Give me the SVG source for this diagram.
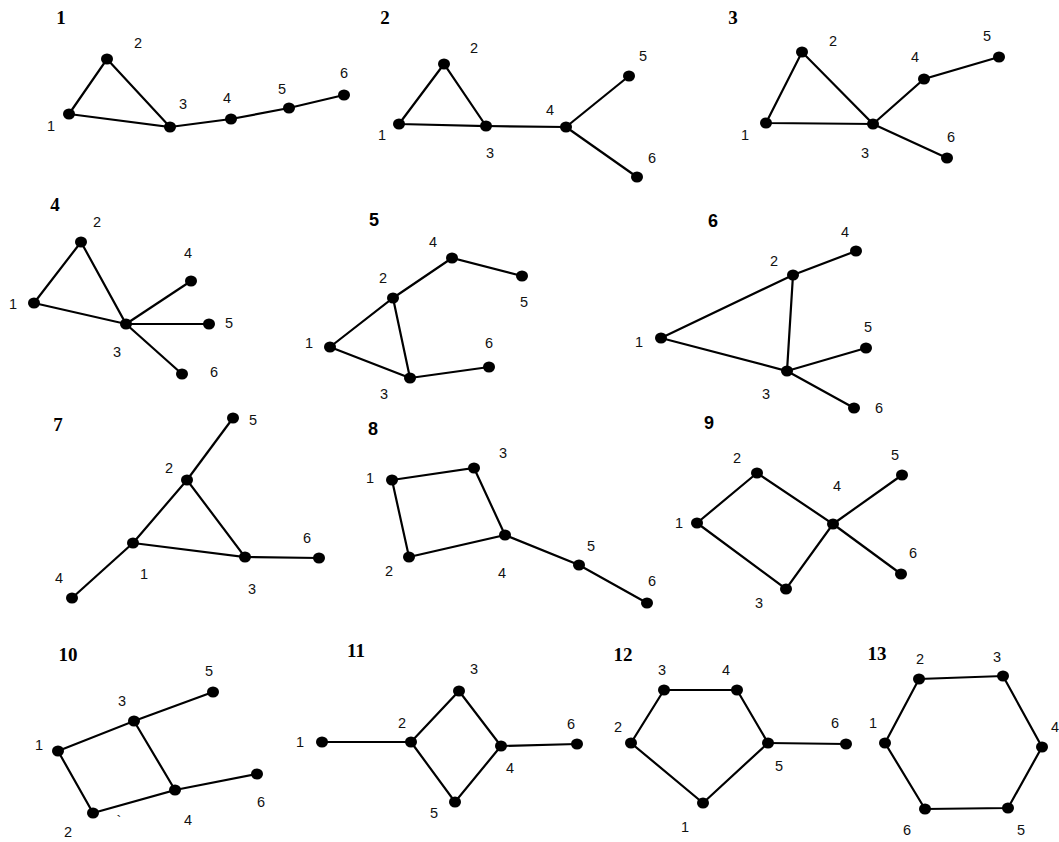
<svg xmlns="http://www.w3.org/2000/svg" width="1059" height="842" viewBox="0 0 1059 842">
<style>
.e{stroke:#000;stroke-width:2.2;fill:none}
.n{fill:#000}
.l{font-family:"Liberation Sans",Arial,sans-serif;font-size:14.5px;fill:#111;text-anchor:middle}
.t{font-family:"Liberation Serif","DejaVu Serif",serif;font-size:19px;font-weight:bold;fill:#000;text-anchor:middle}
.ts{font-family:"Liberation Sans",Arial,sans-serif;font-size:18px;font-weight:bold;fill:#000;text-anchor:middle}
</style>
<rect width="1059" height="842" fill="#fff"/>

<!-- Graph 1 -->
<g id="graph1">
<text class="t" x="61" y="24">1</text>
<g id="g1-edges" class="e">
<polyline points="69,114 107,59 170,127 69,114"/>
<polyline points="170,127 231,119 289,108 344,95"/>
</g>
<g id="g1-n1"><ellipse class="n" cx="69" cy="114" rx="6" ry="5.6"/><text class="l" x="51" y="131">1</text></g>
<g id="g1-n2"><ellipse class="n" cx="107" cy="59" rx="6" ry="5.6"/><text class="l" x="138" y="48">2</text></g>
<g id="g1-n3"><ellipse class="n" cx="170" cy="127" rx="6" ry="5.6"/><text class="l" x="183" y="109">3</text></g>
<g id="g1-n4"><ellipse class="n" cx="231" cy="119" rx="6" ry="5.6"/><text class="l" x="227" y="103">4</text></g>
<g id="g1-n5"><ellipse class="n" cx="289" cy="108" rx="6" ry="5.6"/><text class="l" x="282" y="94">5</text></g>
<g id="g1-n6"><ellipse class="n" cx="344" cy="95" rx="6" ry="5.6"/><text class="l" x="344" y="78">6</text></g>
</g>

<!-- Graph 2 -->
<g id="graph2">
<text class="t" x="385" y="24">2</text>
<g id="g2-edges" class="e">
<polyline points="399,124 444,64 486,126 399,124"/>
<line x1="486" y1="126" x2="566" y2="127"/>
<line x1="566" y1="127" x2="629" y2="76"/>
<line x1="566" y1="127" x2="637" y2="177"/>
</g>
<g id="g2-n1"><ellipse class="n" cx="399" cy="124" rx="6" ry="5.6"/><text class="l" x="382" y="140">1</text></g>
<g id="g2-n2"><ellipse class="n" cx="444" cy="64" rx="6" ry="5.6"/><text class="l" x="474" y="53">2</text></g>
<g id="g2-n3"><ellipse class="n" cx="486" cy="126" rx="6" ry="5.6"/><text class="l" x="490" y="158">3</text></g>
<g id="g2-n4"><ellipse class="n" cx="566" cy="127" rx="6" ry="5.6"/><text class="l" x="550" y="115">4</text></g>
<g id="g2-n5"><ellipse class="n" cx="629" cy="76" rx="6" ry="5.6"/><text class="l" x="643" y="61">5</text></g>
<g id="g2-n6"><ellipse class="n" cx="637" cy="177" rx="6" ry="5.6"/><text class="l" x="652" y="163">6</text></g>
</g>

<!-- Graph 3 -->
<g id="graph3">
<text class="t" x="733" y="24">3</text>
<g id="g3-edges" class="e">
<polyline points="766,123 802,52 873,124 766,123"/>
<polyline points="873,124 924,79 999,57"/>
<line x1="873" y1="124" x2="947" y2="158"/>
</g>
<g id="g3-n1"><ellipse class="n" cx="766" cy="123" rx="6" ry="5.6"/><text class="l" x="745" y="140">1</text></g>
<g id="g3-n2"><ellipse class="n" cx="802" cy="52" rx="6" ry="5.6"/><text class="l" x="833" y="46">2</text></g>
<g id="g3-n3"><ellipse class="n" cx="873" cy="124" rx="6" ry="5.6"/><text class="l" x="865" y="158">3</text></g>
<g id="g3-n4"><ellipse class="n" cx="924" cy="79" rx="6" ry="5.6"/><text class="l" x="915" y="62">4</text></g>
<g id="g3-n5"><ellipse class="n" cx="999" cy="57" rx="6" ry="5.6"/><text class="l" x="987" y="41">5</text></g>
<g id="g3-n6"><ellipse class="n" cx="947" cy="158" rx="6" ry="5.6"/><text class="l" x="951" y="142">6</text></g>
</g>

<!-- Graph 4 -->
<g id="graph4">
<text class="t" x="55" y="211">4</text>
<g id="g4-edges" class="e">
<polyline points="34,303 81,242 126,324 34,303"/>
<line x1="126" y1="324" x2="191" y2="281"/>
<line x1="126" y1="324" x2="209" y2="324"/>
<line x1="126" y1="324" x2="182" y2="374"/>
</g>
<g id="g4-n1"><ellipse class="n" cx="34" cy="303" rx="6" ry="5.6"/><text class="l" x="13" y="309">1</text></g>
<g id="g4-n2"><ellipse class="n" cx="81" cy="242" rx="6" ry="5.6"/><text class="l" x="97" y="227">2</text></g>
<g id="g4-n3"><ellipse class="n" cx="126" cy="324" rx="6" ry="5.6"/><text class="l" x="117" y="357">3</text></g>
<g id="g4-n4"><ellipse class="n" cx="191" cy="281" rx="6" ry="5.6"/><text class="l" x="188" y="258">4</text></g>
<g id="g4-n5"><ellipse class="n" cx="209" cy="324" rx="6" ry="5.6"/><text class="l" x="229" y="328">5</text></g>
<g id="g4-n6"><ellipse class="n" cx="182" cy="374" rx="6" ry="5.6"/><text class="l" x="214" y="377">6</text></g>
</g>

<!-- Graph 5 -->
<g id="graph5">
<text class="ts" x="374" y="226">5</text>
<g id="g5-edges" class="e">
<polyline points="330,347 393,298 410,378 330,347"/>
<polyline points="393,298 452,258 522,276"/>
<line x1="410" y1="378" x2="489" y2="367"/>
</g>
<g id="g5-n1"><ellipse class="n" cx="330" cy="347" rx="6" ry="5.6"/><text class="l" x="309" y="348">1</text></g>
<g id="g5-n2"><ellipse class="n" cx="393" cy="298" rx="6" ry="5.6"/><text class="l" x="383" y="283">2</text></g>
<g id="g5-n3"><ellipse class="n" cx="410" cy="378" rx="6" ry="5.6"/><text class="l" x="384" y="399">3</text></g>
<g id="g5-n4"><ellipse class="n" cx="452" cy="258" rx="6" ry="5.6"/><text class="l" x="433" y="247">4</text></g>
<g id="g5-n5"><ellipse class="n" cx="522" cy="276" rx="6" ry="5.6"/><text class="l" x="524" y="307">5</text></g>
<g id="g5-n6"><ellipse class="n" cx="489" cy="367" rx="6" ry="5.6"/><text class="l" x="489" y="348">6</text></g>
</g>

<!-- Graph 6 -->
<g id="graph6">
<text class="ts" x="713" y="227">6</text>
<g id="g6-edges" class="e">
<polyline points="661,338 793,275 787,371 661,338"/>
<line x1="793" y1="275" x2="856" y2="251"/>
<line x1="787" y1="371" x2="866" y2="348"/>
<line x1="787" y1="371" x2="854" y2="408"/>
</g>
<g id="g6-n1"><ellipse class="n" cx="661" cy="338" rx="6" ry="5.6"/><text class="l" x="639" y="347">1</text></g>
<g id="g6-n2"><ellipse class="n" cx="793" cy="275" rx="6" ry="5.6"/><text class="l" x="774" y="266">2</text></g>
<g id="g6-n3"><ellipse class="n" cx="787" cy="371" rx="6" ry="5.6"/><text class="l" x="766" y="399">3</text></g>
<g id="g6-n4"><ellipse class="n" cx="856" cy="251" rx="6" ry="5.6"/><text class="l" x="845" y="237">4</text></g>
<g id="g6-n5"><ellipse class="n" cx="866" cy="348" rx="6" ry="5.6"/><text class="l" x="868" y="332">5</text></g>
<g id="g6-n6"><ellipse class="n" cx="854" cy="408" rx="6" ry="5.6"/><text class="l" x="879" y="413">6</text></g>
</g>

<!-- Graph 7 -->
<g id="graph7">
<text class="t" x="58" y="431">7</text>
<g id="g7-edges" class="e">
<polyline points="133,543 187,480 245,557 133,543"/>
<line x1="187" y1="480" x2="233" y2="418"/>
<line x1="133" y1="543" x2="72" y2="598"/>
<line x1="245" y1="557" x2="319" y2="558"/>
</g>
<g id="g7-n1"><ellipse class="n" cx="133" cy="543" rx="6" ry="5.6"/><text class="l" x="144" y="579">1</text></g>
<g id="g7-n2"><ellipse class="n" cx="187" cy="480" rx="6" ry="5.6"/><text class="l" x="169" y="473">2</text></g>
<g id="g7-n3"><ellipse class="n" cx="245" cy="557" rx="6" ry="5.6"/><text class="l" x="252" y="594">3</text></g>
<g id="g7-n4"><ellipse class="n" cx="72" cy="598" rx="6" ry="5.6"/><text class="l" x="59" y="583">4</text></g>
<g id="g7-n5"><ellipse class="n" cx="233" cy="418" rx="6" ry="5.6"/><text class="l" x="253" y="425">5</text></g>
<g id="g7-n6"><ellipse class="n" cx="319" cy="558" rx="6" ry="5.6"/><text class="l" x="307" y="543">6</text></g>
</g>

<!-- Graph 8 -->
<g id="graph8">
<text class="ts" x="373" y="435">8</text>
<g id="g8-edges" class="e">
<polyline points="392,480 474,468 505,535 409,557 392,480"/>
<polyline points="505,535 579,565 647,603"/>
</g>
<g id="g8-n1"><ellipse class="n" cx="392" cy="480" rx="6" ry="5.6"/><text class="l" x="370" y="483">1</text></g>
<g id="g8-n2"><ellipse class="n" cx="409" cy="557" rx="6" ry="5.6"/><text class="l" x="389" y="576">2</text></g>
<g id="g8-n3"><ellipse class="n" cx="474" cy="468" rx="6" ry="5.6"/><text class="l" x="503" y="458">3</text></g>
<g id="g8-n4"><ellipse class="n" cx="505" cy="535" rx="6" ry="5.6"/><text class="l" x="502" y="578">4</text></g>
<g id="g8-n5"><ellipse class="n" cx="579" cy="565" rx="6" ry="5.6"/><text class="l" x="591" y="551">5</text></g>
<g id="g8-n6"><ellipse class="n" cx="647" cy="603" rx="6" ry="5.6"/><text class="l" x="652" y="586">6</text></g>
</g>

<!-- Graph 9 -->
<g id="graph9">
<text class="ts" x="709" y="429">9</text>
<g id="g9-edges" class="e">
<polyline points="697,523 757,473 833,524 786,589 697,523"/>
<line x1="833" y1="524" x2="902" y2="475"/>
<line x1="833" y1="524" x2="901" y2="574"/>
</g>
<g id="g9-n1"><ellipse class="n" cx="697" cy="523" rx="6" ry="5.6"/><text class="l" x="679" y="528">1</text></g>
<g id="g9-n2"><ellipse class="n" cx="757" cy="473" rx="6" ry="5.6"/><text class="l" x="737" y="463">2</text></g>
<g id="g9-n3"><ellipse class="n" cx="786" cy="589" rx="6" ry="5.6"/><text class="l" x="759" y="608">3</text></g>
<g id="g9-n4"><ellipse class="n" cx="833" cy="524" rx="6" ry="5.6"/><text class="l" x="837" y="491">4</text></g>
<g id="g9-n5"><ellipse class="n" cx="902" cy="475" rx="6" ry="5.6"/><text class="l" x="895" y="460">5</text></g>
<g id="g9-n6"><ellipse class="n" cx="901" cy="574" rx="6" ry="5.6"/><text class="l" x="913" y="558">6</text></g>
</g>

<!-- Graph 10 -->
<g id="graph10">
<text class="t" x="68" y="661">10</text>
<g id="g10-edges" class="e">
<polyline points="58,751 134,721 175,790 93,813 58,751"/>
<line x1="134" y1="721" x2="213" y2="692"/>
<line x1="175" y1="790" x2="257" y2="774"/>
</g>
<g id="g10-n1"><ellipse class="n" cx="58" cy="751" rx="6" ry="5.6"/><text class="l" x="39" y="750">1</text></g>
<g id="g10-n2"><ellipse class="n" cx="93" cy="813" rx="6" ry="5.6"/><text class="l" x="68" y="837">2</text></g>
<g id="g10-n3"><ellipse class="n" cx="134" cy="721" rx="6" ry="5.6"/><text class="l" x="122" y="706">3</text></g>
<g id="g10-n4"><ellipse class="n" cx="175" cy="790" rx="6" ry="5.6"/><text class="l" x="188" y="825">4</text></g>
<g id="g10-n5"><ellipse class="n" cx="213" cy="692" rx="6" ry="5.6"/><text class="l" x="209" y="676">5</text></g>
<g id="g10-n6"><ellipse class="n" cx="257" cy="774" rx="6" ry="5.6"/><text class="l" x="261" y="807">6</text></g>
<text class="l" x="119" y="826">`</text>
</g>

<!-- Graph 11 -->
<g id="graph11">
<text class="t" x="356" y="657">11</text>
<g id="g11-edges" class="e">
<line x1="322" y1="742" x2="411" y2="742"/>
<polyline points="411,742 459,691 501,746 455,802 411,742"/>
<line x1="501" y1="746" x2="577" y2="744"/>
</g>
<g id="g11-n1"><ellipse class="n" cx="322" cy="742" rx="6" ry="5.6"/><text class="l" x="300" y="747">1</text></g>
<g id="g11-n2"><ellipse class="n" cx="411" cy="742" rx="6" ry="5.6"/><text class="l" x="402" y="728">2</text></g>
<g id="g11-n3"><ellipse class="n" cx="459" cy="691" rx="6" ry="5.6"/><text class="l" x="474" y="674">3</text></g>
<g id="g11-n4"><ellipse class="n" cx="501" cy="746" rx="6" ry="5.6"/><text class="l" x="510" y="773">4</text></g>
<g id="g11-n5"><ellipse class="n" cx="455" cy="802" rx="6" ry="5.6"/><text class="l" x="434" y="818">5</text></g>
<g id="g11-n6"><ellipse class="n" cx="577" cy="744" rx="6" ry="5.6"/><text class="l" x="571" y="729">6</text></g>
</g>

<!-- Graph 12 -->
<g id="graph12">
<text class="t" x="623" y="661">12</text>
<g id="g12-edges" class="e">
<polyline points="703,803 631,743 664,690 737,690 768,743 703,803"/>
<line x1="768" y1="743" x2="846" y2="744"/>
</g>
<g id="g12-n1"><ellipse class="n" cx="703" cy="803" rx="6" ry="5.6"/><text class="l" x="685" y="832">1</text></g>
<g id="g12-n2"><ellipse class="n" cx="631" cy="743" rx="6" ry="5.6"/><text class="l" x="618" y="732">2</text></g>
<g id="g12-n3"><ellipse class="n" cx="664" cy="690" rx="6" ry="5.6"/><text class="l" x="662" y="675">3</text></g>
<g id="g12-n4"><ellipse class="n" cx="737" cy="690" rx="6" ry="5.6"/><text class="l" x="726" y="675">4</text></g>
<g id="g12-n5"><ellipse class="n" cx="768" cy="743" rx="6" ry="5.6"/><text class="l" x="779" y="771">5</text></g>
<g id="g12-n6"><ellipse class="n" cx="846" cy="744" rx="6" ry="5.6"/><text class="l" x="835" y="728">6</text></g>
</g>

<!-- Graph 13 -->
<g id="graph13">
<text class="t" x="877" y="660">13</text>
<g id="g13-edges" class="e">
<polyline points="885,743 919,679 1003,676 1042,747 1008,808 925,809 885,743"/>
</g>
<g id="g13-n1"><ellipse class="n" cx="885" cy="743" rx="6" ry="5.6"/><text class="l" x="873" y="728">1</text></g>
<g id="g13-n2"><ellipse class="n" cx="919" cy="679" rx="6" ry="5.6"/><text class="l" x="920" y="664">2</text></g>
<g id="g13-n3"><ellipse class="n" cx="1003" cy="676" rx="6" ry="5.6"/><text class="l" x="997" y="662">3</text></g>
<g id="g13-n4"><ellipse class="n" cx="1042" cy="747" rx="6" ry="5.6"/><text class="l" x="1055" y="732">4</text></g>
<g id="g13-n5"><ellipse class="n" cx="1008" cy="808" rx="6" ry="5.6"/><text class="l" x="1021" y="835">5</text></g>
<g id="g13-n6"><ellipse class="n" cx="925" cy="809" rx="6" ry="5.6"/><text class="l" x="907" y="835">6</text></g>
</g>
</svg>
